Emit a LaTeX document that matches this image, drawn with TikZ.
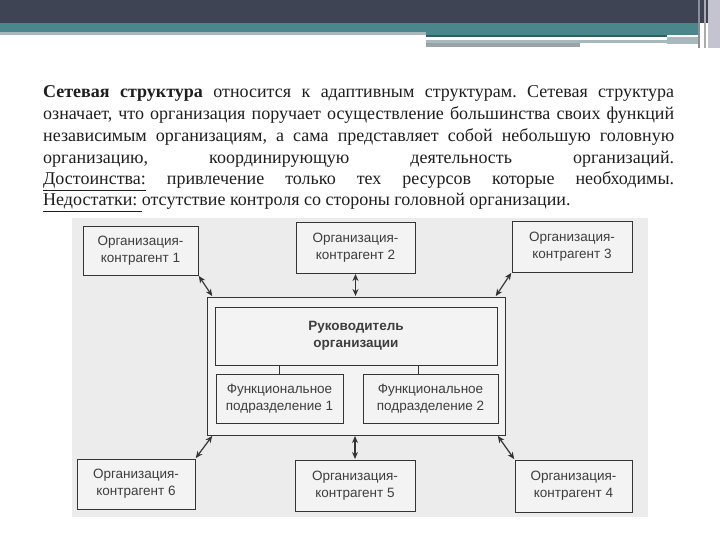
\documentclass[tikz,border=0pt]{standalone}
\usepackage{fontspec}
\setmainfont{Liberation Serif}
\setsansfont{Liberation Sans}
\usetikzlibrary{arrows.meta}
\frenchspacing
\definecolor{hdark}{RGB}{63,68,85}
\definecolor{hteal}{RGB}{74,134,140}
\definecolor{hline}{RGB}{168,184,188}
\definecolor{hedge}{RGB}{196,196,208}
\definecolor{scanbg}{RGB}{236,236,236}
\definecolor{boxfill}{RGB}{243,243,243}
\definecolor{boxline}{RGB}{52,52,52}
\definecolor{boxtext}{RGB}{62,62,62}
\definecolor{partext}{RGB}{30,30,30}
\newcommand{\parline}[1]{\makebox[631pt][s]{#1}}
\tikzset{
  txtline/.style={anchor=base west,inner sep=0pt,text=partext,font=\fontsize{18}{22}\selectfont},
  orgbox/.style={draw=boxline,fill=boxfill,line width=1pt,align=center,inner sep=2pt,
    font=\sffamily\fontsize{13.5}{17}\selectfont,text=boxtext},
  biarrow/.style={draw=boxline,line width=1.2pt,{Stealth[length=7pt,width=6pt]}-{Stealth[length=7pt,width=6pt]},shorten <=0.5pt,shorten >=0.5pt},
  stem/.style={draw=boxline,line width=1pt},
}
\begin{document}
\begin{tikzpicture}[x=1pt,y=-1pt]
  \useasboundingbox (0,0) rectangle (720,540);
  \fill[white] (0,0) rectangle (720,540);
  \fill[hdark] (0,0) rectangle (720,23);
  \fill[hteal] (0,23) rectangle (700,32);
  \fill[hteal] (426,32) rectangle (700,35);
  \fill[hline] (0,32) rectangle (426,35);
  \fill[hteal!70!black] (426,35) rectangle (667,37);
  \fill[hline] (426,40) rectangle (667,43);
  \fill[hline!90!black] (426,43) rectangle (580,47);
  \fill[hline] (667,37) rectangle (698,44);
  \fill[hdark!60] (698,0) rectangle (700,48);
  \fill[hdark!45] (704,0) rectangle (706,48);
  \fill[hedge] (708,0) rectangle (720,48);
  \node[txtline] (l1) at (43,98) {\parline{\textbf{Сетевая структура} относится к адаптивным структурам. Сетевая структура}};
  \node[txtline] (l2) at (43,120) {\parline{означает, что организация поручает осуществление большинства своих функций}};
  \node[txtline] (l3) at (43,142) {\parline{независимым организациям, а сама представляет собой небольшую головную}};
  \node[txtline] (l4) at (43,164) {\parline{организацию, координирующую деятельность организаций.}};
  \node[txtline] (l5) at (43,185) {\parline{\underline{Достоинства:} привлечение только тех ресурсов которые необходимы.}};
  \node[txtline] (l6) at (43,206) {\underline{Недостатки:\ }отсутствие контроля со стороны головной организации.};
  \fill[scanbg] (72,218) rectangle (648,517);
  \node[orgbox,minimum width=298pt,minimum height=138pt] (outer) at (356,366) {};
  \node[orgbox,minimum width=282pt,minimum height=58pt,font=\sffamily\bfseries\fontsize{13.5}{17}\selectfont] (head) at (356,336) {Руководитель\\организации};
  \node[orgbox,minimum width=127pt,minimum height=49pt] (fun1) at (279.5,398.5) {Функциональное\\подразделение 1};
  \node[orgbox,minimum width=135pt,minimum height=49pt] (fun2) at (430.5,398.5) {Функциональное\\подразделение 2};
  \node[orgbox,minimum width=115pt,minimum height=48pt] (org1) at (140.5,251) {Организация-\\контрагент 1};
  \node[orgbox,minimum width=119pt,minimum height=50pt] (org2) at (355.5,248) {Организация-\\контрагент 2};
  \node[orgbox,minimum width=120pt,minimum height=50pt] (org3) at (572,247) {Организация-\\контрагент 3};
  \node[orgbox,minimum width=117pt,minimum height=52pt] (org4) at (573.5,486) {Организация-\\контрагент 4};
  \node[orgbox,minimum width=120pt,minimum height=51pt] (org5) at (355,485.5) {Организация-\\контрагент 5};
  \node[orgbox,minimum width=118pt,minimum height=50pt] (org6) at (136,484) {Организация-\\контрагент 6};
  \draw[stem] (fun1.north |- head.south) -- (fun1.north);
  \draw[stem] ([xshift=-12pt]fun2.north |- head.south) -- ([xshift=-12pt]fun2.north);
  \draw[biarrow] (org1.south east) -- ([xshift=6pt]outer.north west);
  \draw[biarrow] (org2.south) -- (org2.south |- outer.north);
  \draw[biarrow] (org3.south west) -- ([xshift=-10pt]outer.north east);
  \draw[biarrow] (org4.north west) -- ([xshift=-8pt]outer.south east);
  \draw[biarrow] (org5.north) -- (org5.north |- outer.south);
  \draw[biarrow] (org6.north east) -- ([xshift=6pt]outer.south west);
\end{tikzpicture}
\end{document}
